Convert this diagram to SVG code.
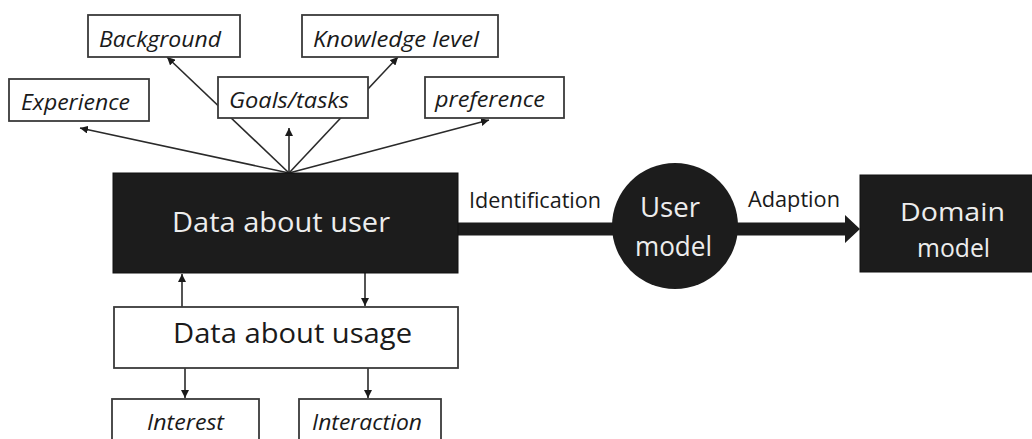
<svg xmlns="http://www.w3.org/2000/svg" width="1032" height="439" viewBox="0 0 1032 439">
<style>
.box{fill:#fff;stroke:#3a3a3a;stroke-width:1.8}
.dark{fill:#1c1c1c;stroke:#111;stroke-width:1}
.it{font-family:"Open Sans","Liberation Sans",sans-serif;font-style:italic;font-size:21px;fill:#1a1a1a}
.lbl{font-family:"Open Sans","Liberation Sans",sans-serif;font-size:22px;fill:#1a1a1a}
.big{font-family:"Open Sans","Liberation Sans",sans-serif;font-size:28px;fill:#1a1a1a}
.bigw{font-family:"Open Sans","Liberation Sans",sans-serif;font-size:28px;fill:#ededed}
.midw{font-family:"Open Sans","Liberation Sans",sans-serif;font-size:26px;fill:#ededed}
.ln{stroke:#2a2a2a;stroke-width:1.6;fill:none}
</style>
<defs>
<marker id="ah" viewBox="0 0 10 10" refX="10" refY="5" markerWidth="5" markerHeight="5" orient="auto" markerUnits="strokeWidth">
<path d="M0,0 L10,5 L0,10 z" fill="#1a1a1a"/>
</marker>
</defs>
<g id="connectors">
<line class="ln" x1="289" y1="173" x2="80" y2="128" marker-end="url(#ah)"/>
<line class="ln" x1="289" y1="173" x2="167" y2="57" marker-end="url(#ah)"/>
<line class="ln" x1="289" y1="173" x2="289" y2="128" marker-end="url(#ah)"/>
<line class="ln" x1="289" y1="173" x2="398" y2="57" marker-end="url(#ah)"/>
<line class="ln" x1="289" y1="173" x2="489" y2="120" marker-end="url(#ah)"/>
<line class="ln" x1="182" y1="307" x2="182" y2="274" marker-end="url(#ah)"/>
<line class="ln" x1="365" y1="273" x2="365" y2="306" marker-end="url(#ah)"/>
<line class="ln" x1="185" y1="368" x2="185" y2="398" marker-end="url(#ah)"/>
<line class="ln" x1="368" y1="368" x2="368" y2="398" marker-end="url(#ah)"/>
<rect x="456" y="222.5" width="160" height="13" fill="#1c1c1c"/>
<path d="M735,222.5 L845,222.5 L845,215 L860,229 L845,243 L845,235.5 L735,235.5 z" fill="#1c1c1c"/>
<text class="lbl" x="469" y="208" textLength="132" lengthAdjust="spacingAndGlyphs">Identification</text>
<text class="lbl" x="748" y="207" textLength="92" lengthAdjust="spacingAndGlyphs">Adaption</text>
</g>
<g id="experience">
<rect class="box" x="9" y="79" width="140" height="42"/>
<text class="it" x="21" y="110" textLength="109" lengthAdjust="spacingAndGlyphs">Experience</text>
</g>
<g id="background">
<rect class="box" x="88" y="15" width="152" height="42"/>
<text class="it" x="99" y="47" textLength="122" lengthAdjust="spacingAndGlyphs">Background</text>
</g>
<g id="goals">
<rect class="box" x="218" y="77" width="150" height="41"/>
<text class="it" x="229" y="108" textLength="120" lengthAdjust="spacingAndGlyphs">Goals/tasks</text>
</g>
<g id="knowledge">
<rect class="box" x="302" y="15" width="196" height="42"/>
<text class="it" x="313" y="47" textLength="166" lengthAdjust="spacingAndGlyphs">Knowledge level</text>
</g>
<g id="preference">
<rect class="box" x="425" y="77" width="139" height="41"/>
<text class="it" x="435" y="107" textLength="110" lengthAdjust="spacingAndGlyphs">preference</text>
</g>
<g id="data-user">
<rect class="dark" x="113" y="173" width="345" height="100"/>
<text class="bigw" x="172" y="232" textLength="218" lengthAdjust="spacingAndGlyphs">Data about user</text>
</g>
<g id="data-usage">
<rect class="box" x="114" y="307" width="344" height="61"/>
<text class="big" x="173" y="343" textLength="239" lengthAdjust="spacingAndGlyphs">Data about usage</text>
</g>
<g id="interest">
<rect class="box" x="112" y="399" width="147" height="50"/>
<text class="it" x="147" y="430" textLength="77" lengthAdjust="spacingAndGlyphs">Interest</text>
</g>
<g id="interaction">
<rect class="box" x="299" y="399" width="142" height="50"/>
<text class="it" x="312" y="430" textLength="110" lengthAdjust="spacingAndGlyphs">Interaction</text>
</g>
<g id="user-model">
<circle cx="675" cy="226" r="63" fill="#1c1c1c"/>
<text class="bigw" x="640" y="217" textLength="60" lengthAdjust="spacingAndGlyphs">User</text>
<text class="bigw" x="635" y="256" textLength="77" lengthAdjust="spacingAndGlyphs">model</text>
</g>
<g id="domain-model">
<rect class="dark" x="860" y="175" width="180" height="97"/>
<text class="midw" x="900" y="221" textLength="105" lengthAdjust="spacingAndGlyphs">Domain</text>
<text class="midw" x="917" y="257" textLength="73" lengthAdjust="spacingAndGlyphs">model</text>
</g>
</svg>
